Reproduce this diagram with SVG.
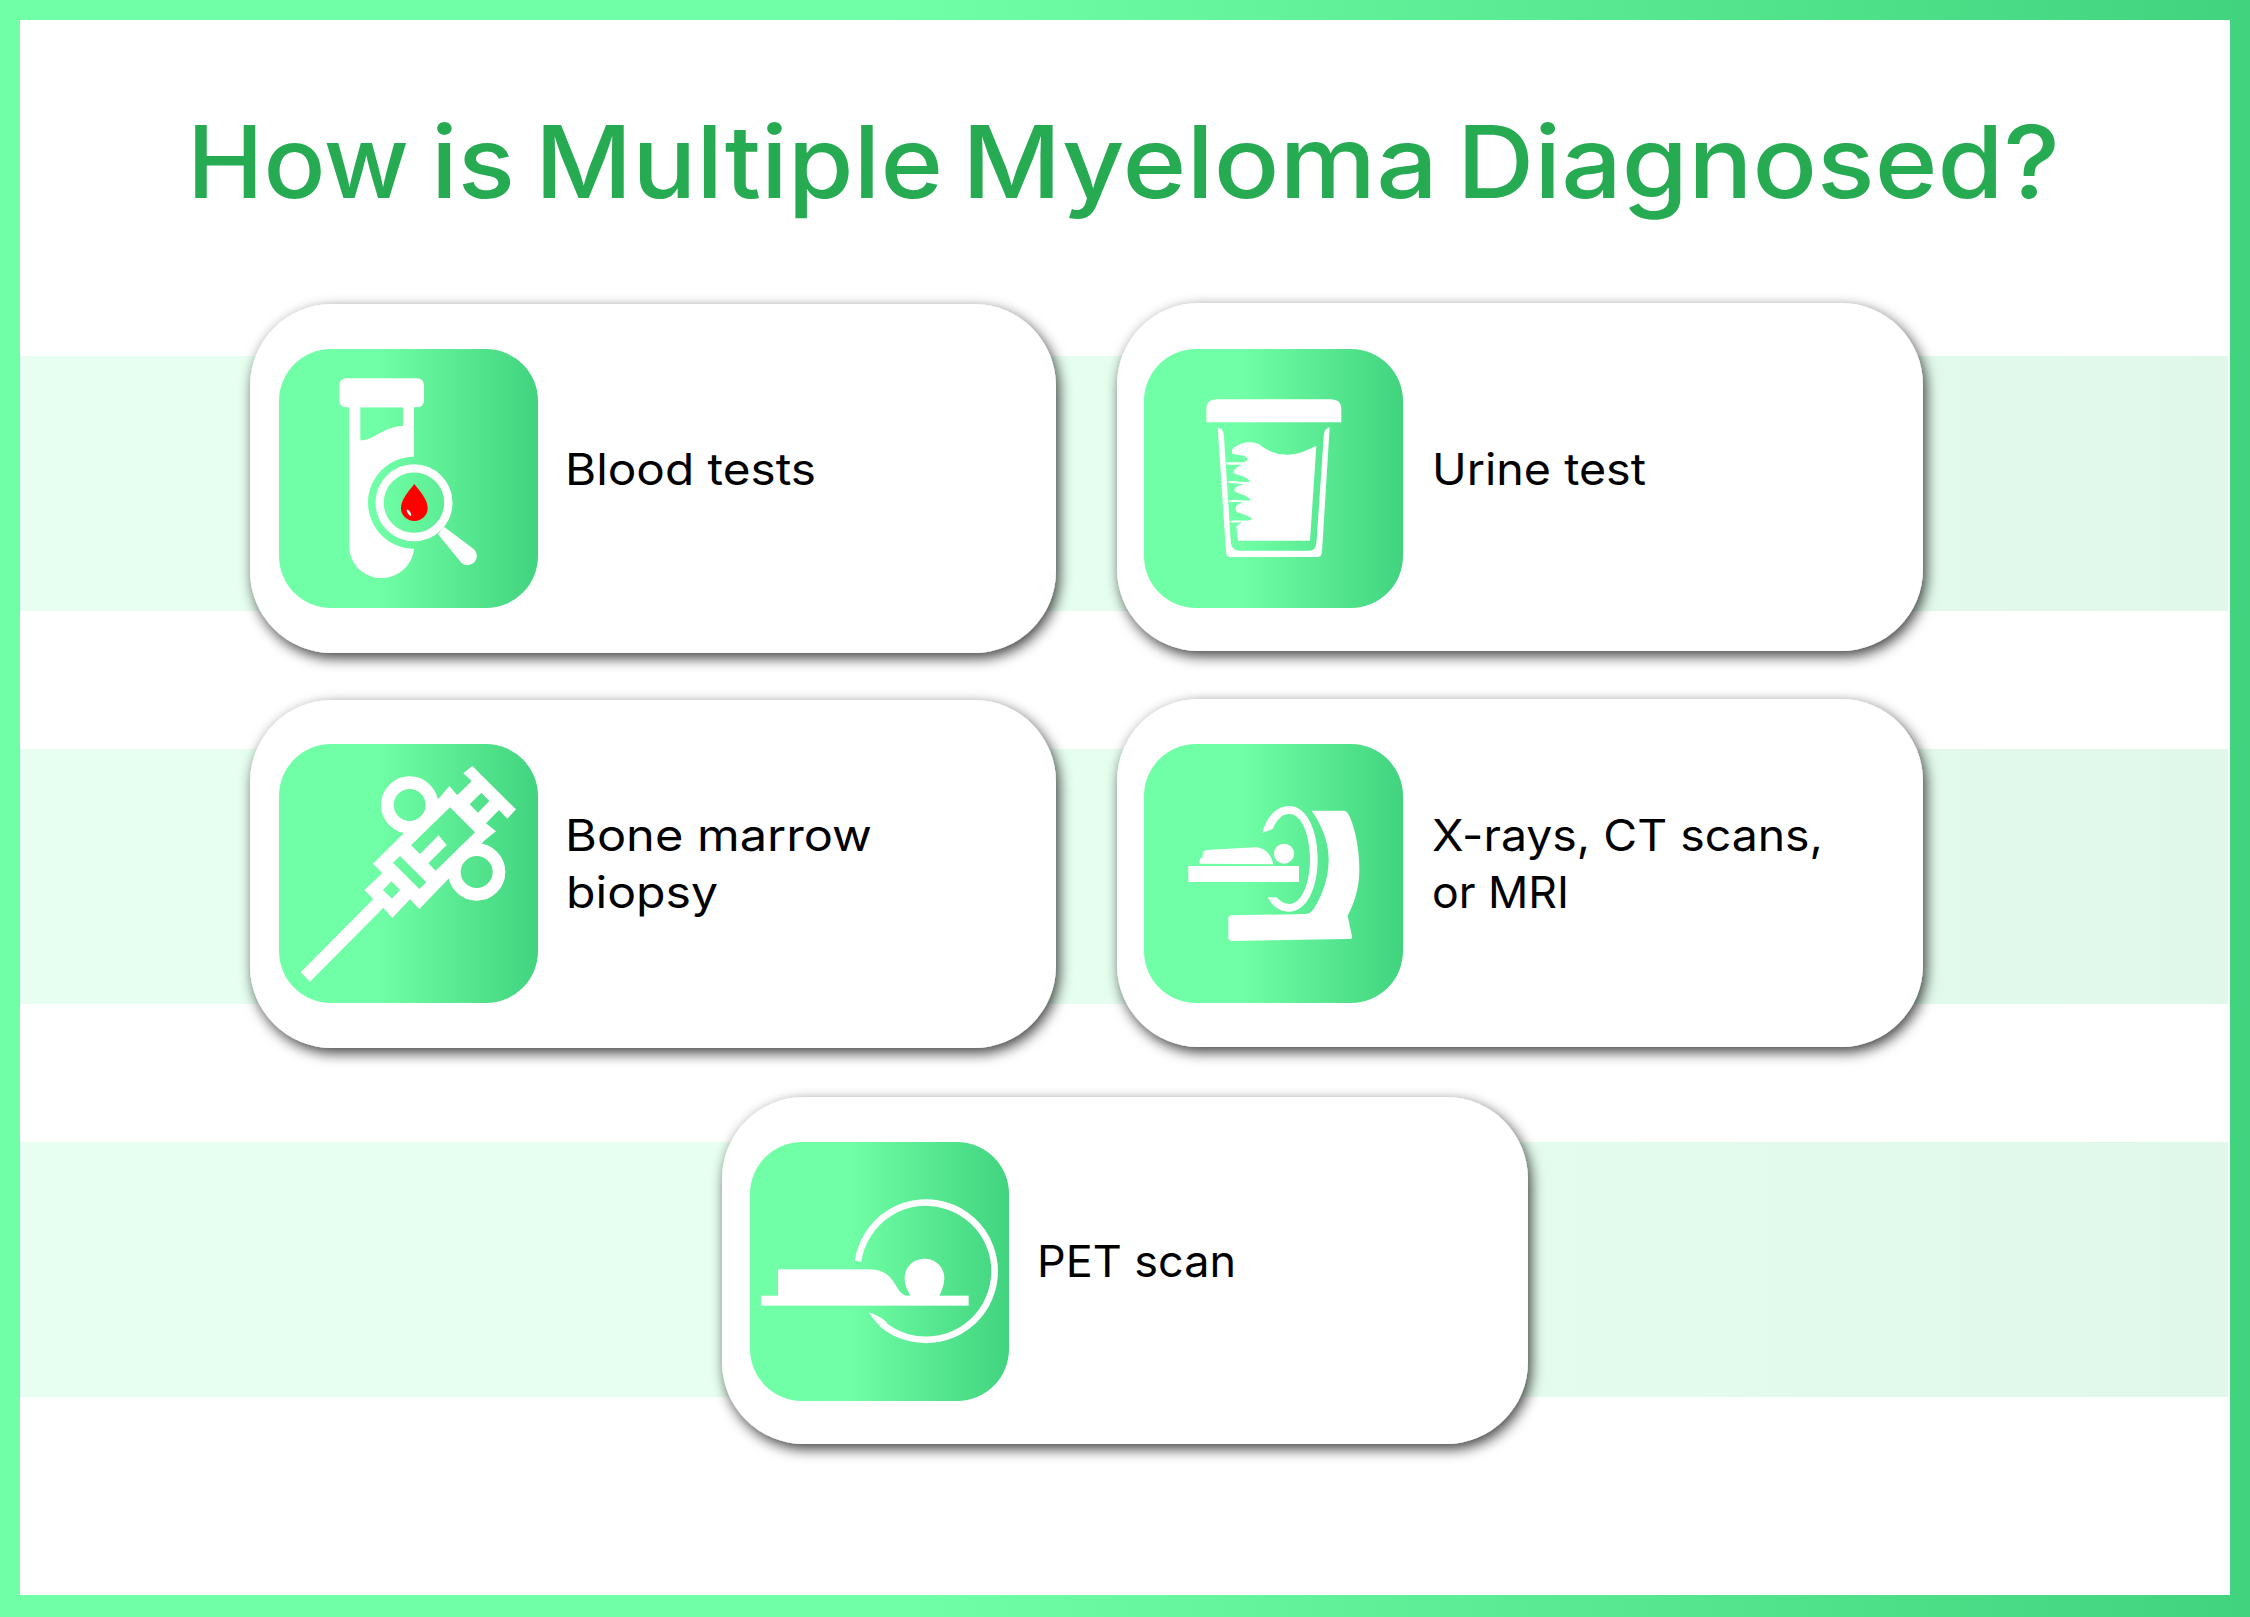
<svg xmlns="http://www.w3.org/2000/svg" width="2250" height="1617" viewBox="0 0 2250 1617">
  <style>
    .card{fill:#fff;filter:url(#sh)}
    .tile{fill:url(#tile)}
    .w{fill:#fff}
    .ev{fill:#fff;fill-rule:evenodd}
    .label{font-family:"Inter","Liberation Sans",sans-serif;font-size:44px;fill:#000}
    .title{font-family:"Inter","Liberation Sans",sans-serif;font-size:100px;font-weight:550;fill:#26AB53}
  </style>
  <defs>
    <linearGradient id="frame" gradientUnits="userSpaceOnUse" x1="0" y1="0" x2="2250" y2="0">
      <stop offset="0.4" stop-color="#70FFA6"/><stop offset="1" stop-color="#41D37E"/>
    </linearGradient>
    <linearGradient id="tile" x1="0" y1="0" x2="1" y2="0">
      <stop offset="0.38" stop-color="#70FFA6"/><stop offset="1" stop-color="#41D37E"/>
    </linearGradient>
    <linearGradient id="band" gradientUnits="userSpaceOnUse" x1="0" y1="0" x2="2250" y2="0">
      <stop offset="0.4" stop-color="#E6FFF0"/><stop offset="1" stop-color="#E0F8EA"/>
    </linearGradient>
    <filter id="sh" x="-10%" y="-15%" width="120%" height="130%">
      <feDropShadow dx="3" dy="5" stdDeviation="7" flood-color="#000" flood-opacity="0.75"/>
    </filter>
  </defs>

  <g id="background">
    <rect width="2250" height="1617" fill="#fff"/>
    <rect x="20" y="356" width="2208" height="255" fill="url(#band)"/>
    <rect x="20" y="749" width="2208" height="255" fill="url(#band)"/>
    <rect x="20" y="1142" width="2208" height="255" fill="url(#band)"/>
    <path fill="url(#frame)" fill-rule="evenodd" d="M0 0H2250V1617H0ZM20 20V1595H2230V20Z"/>
  </g>

  <text id="title" class="title" y="198"><tspan x="187" textLength="222" lengthAdjust="spacingAndGlyphs">How</tspan> <tspan x="431" textLength="84" lengthAdjust="spacingAndGlyphs">is</tspan> <tspan x="535" textLength="408" lengthAdjust="spacingAndGlyphs">Multiple</tspan> <tspan x="962" textLength="476" lengthAdjust="spacingAndGlyphs">Myeloma</tspan> <tspan x="1457" textLength="603" lengthAdjust="spacingAndGlyphs">Diagnosed?</tspan></text>

  <g id="node-blood-tests">
    <rect class="card" x="250" y="304" width="806" height="349" rx="82"/>
    <rect class="tile" x="279" y="349" width="259" height="259" rx="52"/>
    <g transform="translate(240 290) scale(.33333)">
      <rect class="w" x="298" y="265" width="254" height="87" rx="20"/>
      <path class="ev" d="M328 340H522V500A138 138 0 0 0 522 776C518 825 475 864 425 864C372 864 328 822 328 770ZM361 352V451C405 450 425 412 489 407V352Z"/>
      <circle cx="522" cy="638" r="103" fill="none" stroke="#fff" stroke-width="25"/>
      <path class="w" d="M594 733L612 710L702 778A27 27 0 0 1 664 818Z"/>
      <path fill="#f00" d="M523 582C505 605 483 628 483 655A40 38 0 0 0 563 655C563 628 541 605 523 582Z"/>
      <ellipse cx="507" cy="668" rx="4" ry="11" fill="#fff" transform="rotate(-32 507 668)"/>
    </g>
    <text class="label" x="565" y="485" textLength="251" lengthAdjust="spacingAndGlyphs">Blood tests</text>
  </g>

  <g id="node-urine-test">
    <rect class="card" x="1117" y="303" width="806" height="348" rx="82"/>
    <rect class="tile" x="1144" y="349" width="259" height="259" rx="52"/>
    <g transform="translate(1110 290) scale(.33333)">
      <path class="w" d="M289 397V358C289 336 300 328 325 328H660C685 328 694 338 694 360V397Z"/>
      <path class="w" d="M323 413C335 415 340 420 342 440L362 750C363 772 370 782 390 782H595C612 782 618 775 620 750L641 440C643 420 648 415 659 412L636 785C635 797 630 801 620 801H362C352 801 349 795 348 785Z"/>
      <path class="w" transform="translate(315 420)" d="M52 72L90 78C98 84 100 94 85 97L34 97L36 104L80 104C65 112 55 118 55 128C60 135 90 135 105 153C100 160 90 154 40 153L41 159L85 162C70 168 58 172 58 182C65 192 95 192 107 210C100 214 90 210 43 210L44 216L85 216C70 222 62 226 62 236L64 245C75 250 100 255 112 267C100 275 90 270 46 272L47 278L80 277C70 285 65 287 64 290L69 332H285L304 47C275 62 245 74 215 74C180 74 155 60 132 43C115 32 80 35 57 52C50 60 50 65 52 72Z"/>
    </g>
    <text class="label" x="1432" y="485" textLength="214" lengthAdjust="spacingAndGlyphs">Urine test</text>
  </g>

  <g id="node-bone-marrow-biopsy">
    <rect class="card" x="250" y="700" width="806" height="348" rx="82"/>
    <rect class="tile" x="279" y="744" width="259" height="259" rx="52"/>
    <g transform="translate(260 720) scale(.33333)">
      <path class="ev" d="M122 757L340 537L313 510L367 460L339 431L423 348L543 228L568 198L592 226L635 183L610 160L637 138L768 268L742 296L717 270L678 310L708 334L675 360L557 485L478 567L450 538L397 594L370 563L150 785ZM570 262L645 337L527 452L505 430L560 375L536 346L480 402L453 376ZM420 408L499 487L478 507L399 428ZM394 484L420 510L396 536L369 510ZM664 218L688 243L654 278L629 253Z"/>
      <circle cx="449" cy="255" r="67" fill="none" stroke="#fff" stroke-width="38"/>
      <circle cx="650" cy="456" r="67" fill="none" stroke="#fff" stroke-width="38"/>
    </g>
    <text class="label" x="565" y="851" textLength="307" lengthAdjust="spacingAndGlyphs">Bone marrow</text>
    <text class="label" x="566" y="908" textLength="152" lengthAdjust="spacingAndGlyphs">biopsy</text>
  </g>

  <g id="node-imaging">
    <rect class="card" x="1117" y="699" width="806" height="348" rx="82"/>
    <rect class="tile" x="1144" y="744" width="259" height="259" rx="52"/>
    <g transform="translate(1130 730) scale(.33333)">
      <rect class="w" x="175" y="408" width="332" height="48"/>
      <path class="w" d="M208 398C208 390 210 384 218 382C218 366 220 362 230 360L375 352C405 352 425 375 430 403L220 401C212 401 208 402 208 398Z"/>
      <circle class="w" cx="462" cy="371" r="30"/>
      <path class="w" d="M397 308C410 260 440 228 478 228C530 228 563 300 563 387C563 475 530 545 478 545C450 545 428 530 413 502L440 502C450 515 465 522 478 522C515 522 540 460 540 387C540 315 515 252 478 252C455 252 440 270 428 297Z"/>
      <path class="w" d="M545 242H640C650 242 655 250 660 262C680 310 688 370 688 420C688 470 675 515 653 557L666 620C667 626 662 627 655 627L305 633C298 633 295 630 295 622V565C295 558 298 556 305 556L525 552C540 552 545 545 552 535C580 490 596 440 596 387C596 335 575 285 545 242Z"/>
    </g>
    <text class="label" x="1432" y="851" textLength="391" lengthAdjust="spacingAndGlyphs">X-rays, CT scans,</text>
    <text class="label" x="1432" y="908" textLength="137" lengthAdjust="spacingAndGlyphs">or MRI</text>
  </g>

  <g id="node-pet-scan">
    <rect class="card" x="722" y="1097" width="806" height="347" rx="82"/>
    <rect class="tile" x="750" y="1142" width="259" height="259" rx="52"/>
    <g transform="translate(740 1130) scale(.33333)">
      <rect class="w" x="63" y="497" width="623" height="30"/>
      <path class="w" d="M114 500V418H385C440 418 455 445 470 470C482 490 490 495 512 502V510H114Z"/>
      <path class="w" d="M513 500C498 475 494 460 494 445C494 410 520 386 554 386C588 386 613 412 613 445C613 465 605 482 597 500Z"/>
      <path d="M354 394A206 206 0 1 1 425 581" fill="none" stroke="#fff" stroke-width="20"/>
      <path class="w" d="M386 547C405 553 425 562 442 578L418 586C405 575 395 560 386 547Z"/>
    </g>
    <text class="label" x="1037" y="1277" textLength="199" lengthAdjust="spacingAndGlyphs">PET scan</text>
  </g>
</svg>
